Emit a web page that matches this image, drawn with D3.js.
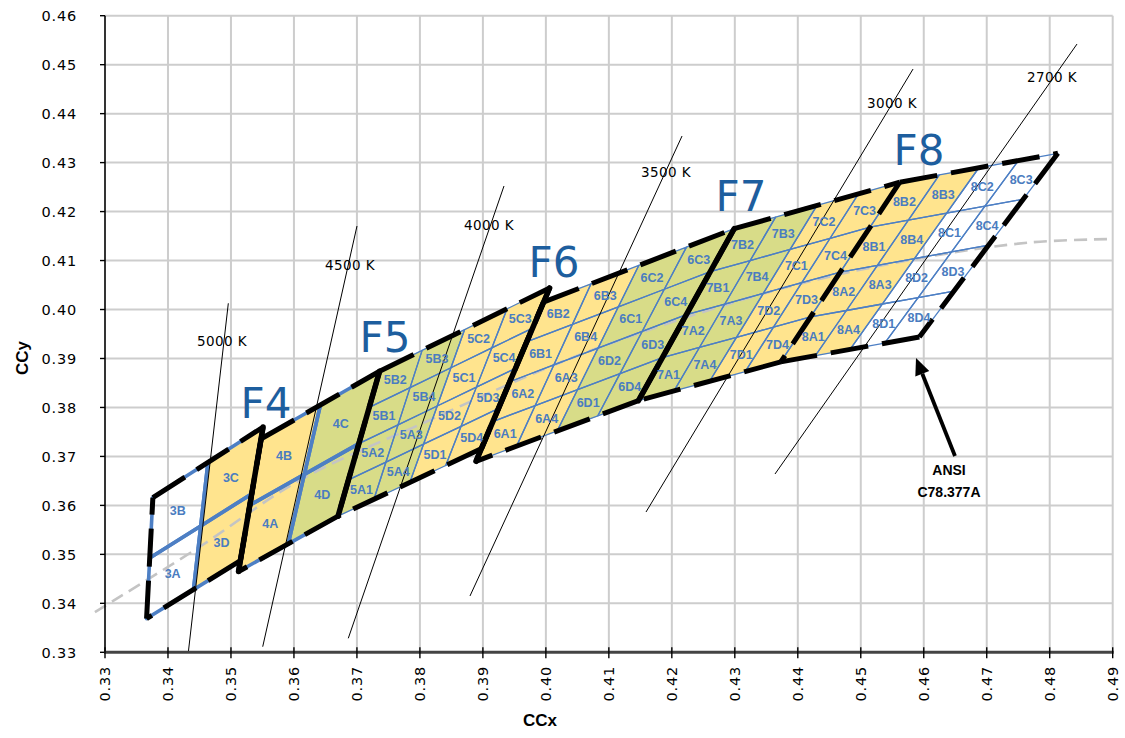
<!DOCTYPE html>
<html><head><meta charset="utf-8">
<script src="https://cdn.jsdelivr.net/npm/d3@7"></script>
<style>body{margin:0;background:#fff;} svg{display:block;}</style>
</head><body>
<svg id="chart" width="1125" height="738"></svg>
<script>
// ---------------- data ----------------
const xTicks = [0.33,0.34,0.35,0.36,0.37,0.38,0.39,0.40,0.41,0.42,0.43,0.44,0.45,0.46,0.47,0.48,0.49];
const xTickLabels = ["0.33","0.34","0.35","0.36","0.37","0.38","0.39","0.40","0.41","0.42","0.43","0.44","0.45","0.46","0.47","0.48","0.49"];
const yTicks = [0.33,0.34,0.35,0.36,0.37,0.38,0.39,0.40,0.41,0.42,0.43,0.44,0.45,0.46];
const yTickLabels = ["0.33","0.34","0.35","0.36","0.37","0.38","0.39","0.40","0.41","0.42","0.43","0.44","0.45","0.46"];

// ANSI C78.377A quadrangles: TL, TR, BR, BL
const ansiNames = ["5000K","4500K","4000K","3500K","3000K","2700K"];
const ansiQuads = [
  [[0.3376,0.3616],[0.3551,0.3760],[0.3515,0.3487],[0.3366,0.3369]],
  [[0.3548,0.3736],[0.3736,0.3874],[0.3670,0.3578],[0.3512,0.3465]],
  [[0.3736,0.3874],[0.4006,0.4044],[0.3898,0.3716],[0.3670,0.3578]],
  [[0.3996,0.4015],[0.4299,0.4165],[0.4147,0.3814],[0.3889,0.3690]],
  [[0.4299,0.4165],[0.4562,0.4260],[0.4373,0.3893],[0.4147,0.3814]],
  [[0.4562,0.4260],[0.4813,0.4319],[0.4593,0.3944],[0.4373,0.3893]]
];

// bin groups (each splits one ANSI quadrangle)
const binGroups = ["3","4","5","6","7","8"];
const binDivisions = [2,2,4,4,4,4];
const binNames2 = [["B","C"],["A","D"]];
const binNames4 = [["B2","B3","C2","C3"],["B1","B4","C1","C4"],["A2","A3","D2","D3"],["A1","A4","D1","D4"]];
const binColumnFills = [
  ["none","yellow"],
  ["yellow","olive"],
  ["olive","olive","yellow","yellow"],
  ["yellow","yellow","olive","olive"],
  ["olive","olive","yellow","yellow"],
  ["yellow","yellow","none","none"]
];

// F-group boundaries (solid thick)
const fLines = [
  [[0.3551,0.3760],[0.3512,0.3465]],
  [[0.3736,0.3874],[0.3670,0.3578]],
  [[0.4006,0.4044],[0.3889,0.3690]],
  [[0.4299,0.4165],[0.4147,0.3814]]
];
const fLabels = ["F4","F5","F6","F7","F8"];
const fLabelPos = [[0.35556,0.38091],[0.37446,0.39439],[0.40129,0.40970],[0.43098,0.42318],[0.45925,0.43257]];

// CCT isotherms
const isoLabels = ["5000 K","4500 K","4000 K","3500 K","3000 K","2700 K"];
const isoLines = [
  [[0.34958,0.40127],[0.34323,0.33000]],
  [[0.37001,0.41705],[0.35504,0.33114]],
  [[0.39335,0.42522],[0.36863,0.33286]],
  [[0.42162,0.43543],[0.38795,0.34150]],
  [[0.45830,0.44911],[0.41590,0.35865]],
  [[0.48433,0.45421],[0.43638,0.36641]]
];
const isoLabelPos = [[0.34858,0.39357],[0.36890,0.40909],[0.39097,0.41726],[0.41908,0.42808],[0.45496,0.44217],[0.48036,0.44748]];

// Planckian locus
const planck = [[0.3284,0.3382],[0.3451,0.3516],[0.3610,0.3652],[0.3805,0.3768],[0.4053,0.3907],[0.4369,0.4041],[0.4599,0.4106],[0.4770,0.4137],[0.4900,0.4144]];

// annotation
const noteLines = ["ANSI","C78.377A"];
const notePos = [0.46385,0.36723];
const noteArrow = [[0.46496,0.37009],[0.45877,0.39010]];

// ---------------- drawing ----------------
const svg = d3.select("#chart");
svg.append("rect").attr("width",1125).attr("height",738).attr("fill","#fff");
const x = d3.scaleLinear().domain([0.33,0.49]).range([105,1112.7]);
const y = d3.scaleLinear().domain([0.33,0.46]).range([652.3,15.7]);
const P = p => [x(p[0]), y(p[1])];

const BLUE = "#4d7fc4", LBLUE = "#4a7cc0", FBLUE = "#1d5e9e";
const fillColor = {yellow:"#ffe48e", olive:"#d8dc88", none:"none"};

// grid
svg.append("g").selectAll("line").data(xTicks.slice(1)).join("line")
  .attr("x1",d=>x(d)).attr("x2",d=>x(d)).attr("y1",y(0.46)).attr("y2",y(0.33))
  .attr("stroke","#cdcdcd").attr("stroke-width",2);
svg.append("g").selectAll("line").data(yTicks.slice(1)).join("line")
  .attr("x1",x(0.33)).attr("x2",x(0.49)).attr("y1",d=>y(d)).attr("y2",d=>y(d))
  .attr("stroke","#cdcdcd").attr("stroke-width",2);

// build cells
const lerp = (a,b,t)=>[a[0]+(b[0]-a[0])*t, a[1]+(b[1]-a[1])*t];
const cells = [];
binGroups.forEach((g,gi)=>{
  const q = ansiQuads[gi], n = binDivisions[gi];
  const node = (i,j)=>{ const top = lerp(q[0],q[1],i/n), bot = lerp(q[3],q[2],i/n); return lerp(top,bot,j/n); };
  const names = n===2 ? binNames2 : binNames4;
  for(let j=0;j<n;j++) for(let i=0;i<n;i++){
    const poly = [node(i,j),node(i+1,j),node(i+1,j+1),node(i,j+1)];
    const c = node(i+0.5,j+0.5);
    cells.push({name:g+names[j][i], poly, c, fill:binColumnFills[gi][i], thick:n===2});
  }
});

const gCells = svg.append("g");
gCells.selectAll("path").data(cells.filter(d=>d.fill!=="none")).join("path")
  .attr("d",d=>"M"+d.poly.map(P).join("L")+"Z")
  .attr("fill",d=>fillColor[d.fill]).attr("stroke",d=>fillColor[d.fill]).attr("stroke-width",0.6);

// planckian locus
svg.append("path").datum(planck)
  .attr("d", d3.line().x(d=>x(d[0])).y(d=>y(d[1])).curve(d3.curveCatmullRom))
  .attr("fill","none").attr("stroke","#c4c4c4").attr("stroke-width",2.6).attr("stroke-dasharray","13 7");

// bin outlines
svg.append("g").selectAll("path").data(cells).join("path")
  .attr("d",d=>"M"+d.poly.map(P).join("L")+"Z")
  .attr("fill","none").attr("stroke",BLUE)
  .attr("stroke-width",d=>d.thick?3.6:1.3).attr("stroke-linejoin","round");

// isotherms
svg.append("g").selectAll("line").data(isoLines).join("line")
  .attr("x1",d=>x(d[0][0])).attr("y1",d=>y(d[0][1])).attr("x2",d=>x(d[1][0])).attr("y2",d=>y(d[1][1]))
  .attr("stroke","#000").attr("stroke-width",1);

// ANSI quadrangle edges (dashed, shared edges drawn once)
const edges = []; const seen = new Set();
ansiQuads.forEach(q=>{
  for(let k=0;k<4;k++){
    const a=q[k], b=q[(k+1)%4];
    const key=[a.join(","),b.join(",")].sort().join("|");
    if(!seen.has(key)){seen.add(key); edges.push([a,b]);}
  }
});
svg.append("g").selectAll("line").data(edges).join("line")
  .attr("x1",d=>x(d[0][0])).attr("y1",d=>y(d[0][1])).attr("x2",d=>x(d[1][0])).attr("y2",d=>y(d[1][1]))
  .attr("stroke","#000").attr("stroke-width",5).attr("stroke-dasharray","38 14");

// F boundaries
svg.append("g").selectAll("line").data(fLines).join("line")
  .attr("x1",d=>x(d[0][0])).attr("y1",d=>y(d[0][1])).attr("x2",d=>x(d[1][0])).attr("y2",d=>y(d[1][1]))
  .attr("stroke","#000").attr("stroke-width",5.5).attr("stroke-linecap","round");

// cell labels
svg.append("g").selectAll("text").data(cells).join("text")
  .attr("x",d=>x(d.c[0])).attr("y",d=>y(d.c[1])).attr("dy","0.36em")
  .attr("text-anchor","middle").attr("fill",LBLUE)
  .attr("font-family","'Liberation Sans', Arial, sans-serif").attr("font-weight","bold")
  .attr("font-size",12.5).text(d=>d.name);

// F labels
svg.append("g").selectAll("text").data(fLabels).join("text")
  .attr("x",(d,i)=>x(fLabelPos[i][0])).attr("y",(d,i)=>y(fLabelPos[i][1])).attr("dy","0.36em")
  .attr("text-anchor","middle").attr("fill",FBLUE)
  .attr("font-family","'DejaVu Sans', Verdana, sans-serif").attr("font-size",42).text(d=>d);

// isotherm labels
svg.append("g").selectAll("text").data(isoLabels).join("text")
  .attr("x",(d,i)=>x(isoLabelPos[i][0])).attr("y",(d,i)=>y(isoLabelPos[i][1])).attr("dy","0.36em")
  .attr("text-anchor","middle").attr("fill","#000")
  .attr("font-family","'DejaVu Sans', Verdana, sans-serif").attr("font-size",13.5).attr("letter-spacing",0.4).text(d=>d);

// annotation
const t0 = P(noteArrow[0]), t1 = P(noteArrow[1]);
const dx = t1[0]-t0[0], dy = t1[1]-t0[1], L = Math.hypot(dx,dy), ux = dx/L, uy = dy/L;
const hl = 17, hw = 7.5;
const base = [t1[0]-ux*hl, t1[1]-uy*hl];
svg.append("line").attr("x1",t0[0]).attr("y1",t0[1]).attr("x2",base[0]).attr("y2",base[1])
  .attr("stroke","#000").attr("stroke-width",3.8);
svg.append("path").attr("d","M"+[t1,[base[0]-uy*hw,base[1]+ux*hw],[base[0]+uy*hw,base[1]-ux*hw]].join("L")+"Z")
  .attr("fill","#000");
svg.append("g").selectAll("text").data(noteLines).join("text")
  .attr("x",x(notePos[0])+ (1)).attr("y",(d,i)=>y(notePos[1])+i*22).attr("dy","0.36em")
  .attr("text-anchor","middle").attr("fill","#000")
  .attr("font-family","'Liberation Sans', Arial, sans-serif").attr("font-weight","bold").attr("font-size",14).text(d=>d);

// axes
svg.append("line").attr("x1",x(0.33)).attr("x2",x(0.33)).attr("y1",y(0.46)).attr("y2",y(0.33))
  .attr("stroke","#000").attr("stroke-width",1.6);
svg.append("g").selectAll("line").data(yTicks).join("line")
  .attr("x1",x(0.33)-5).attr("x2",x(0.33)).attr("y1",d=>y(d)).attr("y2",d=>y(d))
  .attr("stroke","#000").attr("stroke-width",1.4);
svg.append("line").attr("x1",x(0.33)-1).attr("x2",x(0.49)+1).attr("y1",y(0.33)).attr("y2",y(0.33))
  .attr("stroke","#444").attr("stroke-width",3);
svg.append("g").selectAll("line").data(xTicks).join("line")
  .attr("x1",d=>x(d)).attr("x2",d=>x(d)).attr("y1",y(0.33)-5).attr("y2",y(0.33)+6)
  .attr("stroke","#000").attr("stroke-width",1.4);

svg.append("g").selectAll("text").data(yTicks).join("text")
  .attr("x",77).attr("y",d=>y(d)).attr("dy","0.36em").attr("text-anchor","end")
  .attr("font-family","'DejaVu Sans', Verdana, sans-serif").attr("font-size",14.5).attr("letter-spacing",0.8)
  .attr("fill","#000").text((d,i)=>yTickLabels[i]);
svg.append("g").selectAll("text").data(xTicks).join("text")
  .attr("transform",d=>`translate(${x(d)},666) rotate(-90)`).attr("dy","0.36em").attr("text-anchor","end")
  .attr("font-family","'DejaVu Sans', Verdana, sans-serif").attr("font-size",14.5).attr("letter-spacing",0.8)
  .attr("fill","#000").text((d,i)=>xTickLabels[i]);

svg.append("text").attr("transform","translate(22,358) rotate(-90)").attr("dy","0.36em")
  .attr("text-anchor","middle").attr("font-family","'Liberation Sans', Arial, sans-serif")
  .attr("font-weight","bold").attr("font-size",17).text("CCy");
svg.append("text").attr("x",540).attr("y",720).attr("dy","0.36em")
  .attr("text-anchor","middle").attr("font-family","'Liberation Sans', Arial, sans-serif")
  .attr("font-weight","bold").attr("font-size",17).text("CCx");
</script>
</body></html>
